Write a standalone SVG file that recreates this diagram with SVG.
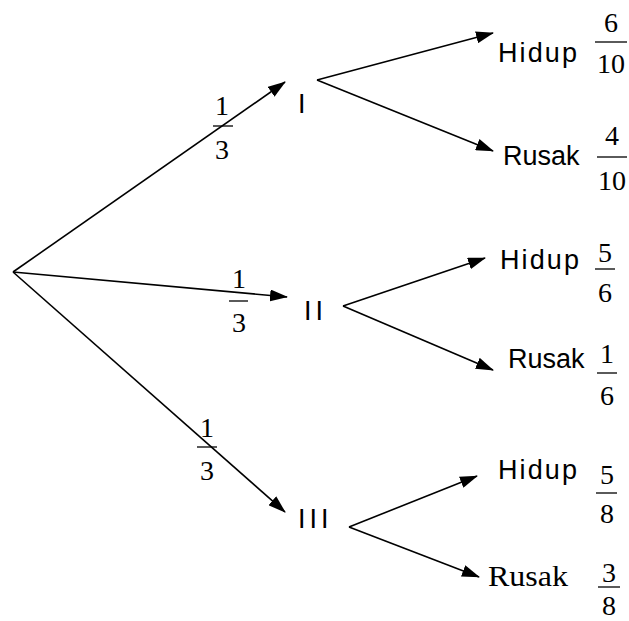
<svg xmlns="http://www.w3.org/2000/svg" width="629" height="621" viewBox="0 0 629 621">
<style>
.s{font-family:"Liberation Sans",Arial,sans-serif;font-size:27px;fill:#000}
.r{font-family:"Liberation Sans",Arial,sans-serif;font-size:27px;fill:#000;letter-spacing:4px}
.f{font-family:"Liberation Serif","Times New Roman",serif;font-size:28px;fill:#000;text-anchor:middle}
.t{font-family:"Liberation Serif","Times New Roman",serif;font-size:29px;fill:#000}
.e{stroke:#000;stroke-width:1.6;fill:none;marker-end:url(#ah)}
.b{stroke:#000;stroke-width:1.3}
</style>
<defs>
<marker id="ah" viewBox="0 0 18 12" refX="17" refY="6" markerWidth="18" markerHeight="12" markerUnits="userSpaceOnUse" orient="auto">
<path d="M0,0 L18,6 L0,12 z" fill="#000"/>
</marker>
</defs>
<rect width="629" height="621" fill="#fff"/>
<g id="connectors">
<line class="e" x1="13" y1="272" x2="285" y2="82"/>
<line class="e" x1="13" y1="272" x2="287" y2="297"/>
<line class="e" x1="13" y1="272" x2="285" y2="512"/>
<line class="e" x1="317" y1="80" x2="493" y2="33"/>
<line class="e" x1="317" y1="80" x2="493" y2="151"/>
<line class="e" x1="343" y1="306" x2="485" y2="258"/>
<line class="e" x1="343" y1="306" x2="493" y2="370"/>
<line class="e" x1="349" y1="527" x2="477" y2="476"/>
<line class="e" x1="349" y1="527" x2="479" y2="577"/>
</g>
<g id="edge-labels">
<g id="p-I"><text class="f" x="222" y="115">1</text><line class="b" x1="213" y1="126" x2="233" y2="126"/><text class="f" x="222" y="159">3</text></g>
<g id="p-II"><text class="f" x="239" y="288">1</text><line class="b" x1="229" y1="301" x2="248" y2="301"/><text class="f" x="239" y="332">3</text></g>
<g id="p-III"><text class="f" x="207" y="437">1</text><line class="b" x1="197" y1="447" x2="217" y2="447"/><text class="f" x="207" y="480">3</text></g>
</g>
<g id="node-root"></g>
<g id="node-I"><text class="r" x="298" y="113">I</text></g>
<g id="node-II"><text class="r" x="304" y="320">II</text></g>
<g id="node-III"><text class="r" x="298" y="528">III</text></g>
<g id="node-I-hidup"><text class="s" x="498" y="62" textLength="79" lengthAdjust="spacing">Hidup</text>
<text class="f" x="611" y="32">6</text><line class="b" x1="595" y1="42" x2="627" y2="42"/><text class="f" x="611" y="73">10</text></g>
<g id="node-I-rusak"><text class="s" x="503" y="165">Rusak</text>
<text class="f" x="612" y="145">4</text><line class="b" x1="597" y1="157" x2="627" y2="157"/><text class="f" x="612" y="190">10</text></g>
<g id="node-II-hidup"><text class="s" x="500" y="269" textLength="79" lengthAdjust="spacing">Hidup</text>
<text class="f" x="605" y="262">5</text><line class="b" x1="595" y1="269" x2="615" y2="269"/><text class="f" x="605" y="302">6</text></g>
<g id="node-II-rusak"><text class="s" x="508" y="368">Rusak</text>
<text class="f" x="607" y="363">1</text><line class="b" x1="597" y1="373" x2="617" y2="373"/><text class="f" x="607" y="405">6</text></g>
<g id="node-III-hidup"><text class="s" x="498" y="479" textLength="79" lengthAdjust="spacing">Hidup</text>
<text class="f" x="607" y="484">5</text><line class="b" x1="596" y1="493" x2="617" y2="493"/><text class="f" x="607" y="523">8</text></g>
<g id="node-III-rusak"><text class="t" x="488" y="586" textLength="80" lengthAdjust="spacingAndGlyphs">Rusak</text>
<text class="f" x="609" y="582">3</text><line class="b" x1="598" y1="587" x2="620" y2="587"/><text class="f" x="609" y="615">8</text></g>
</svg>
